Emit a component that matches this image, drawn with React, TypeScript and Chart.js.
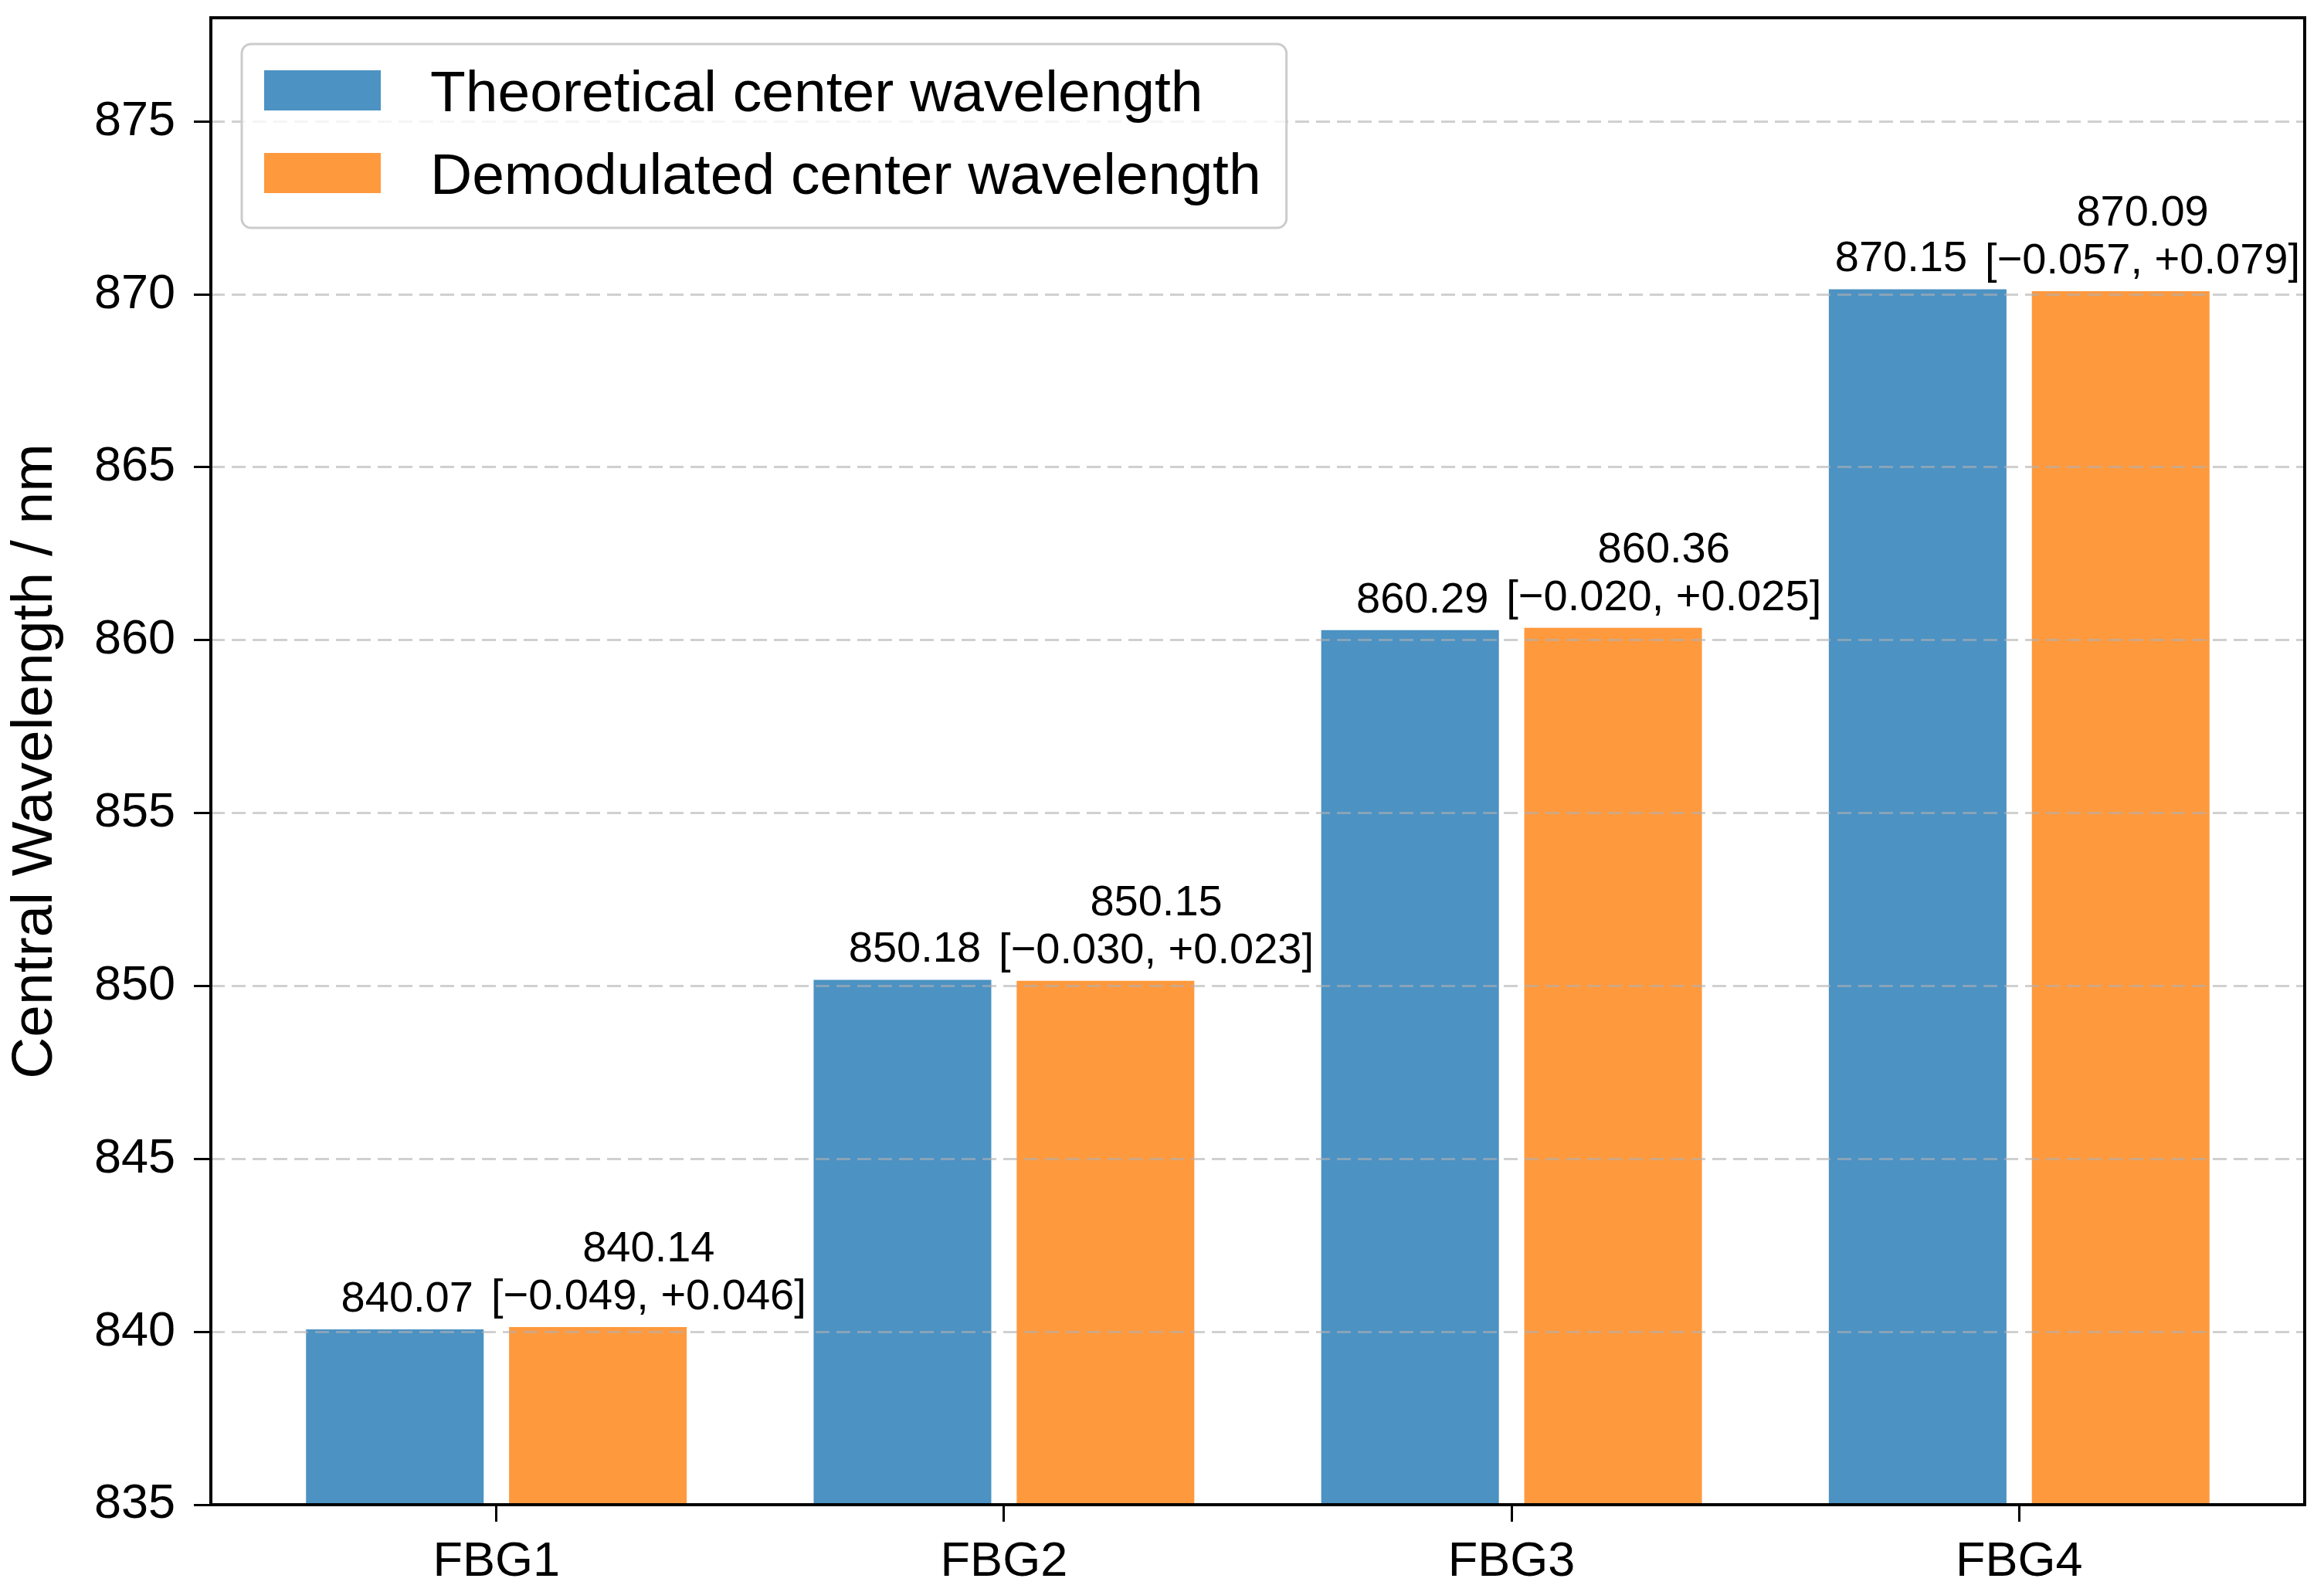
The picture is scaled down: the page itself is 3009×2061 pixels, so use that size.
import { useEffect, useRef } from "react"
import { Chart, registerables } from "chart.js"
import type { Plugin } from "chart.js"

Chart.register(...registerables)

const FONT = "'Liberation Sans', Arial, Helvetica, sans-serif"
const WIDTH = 3009
const HEIGHT = 2061

// data
const categories = ["FBG1", "FBG2", "FBG3", "FBG4"]
const seriesLabels = ["Theoretical center wavelength", "Demodulated center wavelength"]
const theoretical = [840.07, 850.18, 860.29, 870.15]
const demodulated = [840.14, 850.15, 860.36, 870.09]
const errLow = [-0.049, -0.03, -0.02, -0.057]
const errHigh = [0.046, 0.023, 0.025, 0.079]
const yTicks = [835, 840, 845, 850, 855, 860, 865, 870, 875]

const BLUE = "#4c92c3"
const ORANGE = "#ff993e"

const signed = (v: number) => (v < 0 ? "\u2212" : "+") + Math.abs(v).toFixed(3)

// text above each pair of bars, nudged so the two labels do not collide
const valueLabels: Plugin<"bar"> = {
  id: "valueLabels",
  afterDraw(chart) {
    const { ctx, chartArea } = chart
    const blueBars = chart.getDatasetMeta(0).data as any[]
    const orangeBars = chart.getDatasetMeta(1).data as any[]
    ctx.save()
    ctx.font = `56px ${FONT}`
    ctx.fillStyle = "#000"
    ctx.textAlign = "center"
    ctx.textBaseline = "alphabetic"
    categories.forEach((_, i) => {
      const b = blueBars[i]
      const o = orangeBars[i]
      const bText = theoretical[i].toFixed(2)
      const oTop = demodulated[i].toFixed(2)
      const oBot = `[${signed(errLow[i])}, ${signed(errHigh[i])}]`
      const bw = ctx.measureText(bText).width
      const ow = Math.max(ctx.measureText(oTop).width, ctx.measureText(oBot).width)
      let bx = b.x + 16
      let ox = bx + bw / 2 + 23 + ow / 2
      const over = ox + ow / 2 - (chartArea.right - 6)
      if (over > 0) {
        bx -= over
        ox -= over
      }
      ctx.fillText(bText, bx, b.y - 23)
      ctx.fillText(oBot, ox, o.y - 23)
      ctx.fillText(oTop, ox, o.y - 23 - 62)
    })
    ctx.restore()
  },
}

// legend box in the upper left corner of the plot
const boxLegend: Plugin<"bar"> = {
  id: "boxLegend",
  afterDraw(chart) {
    const { ctx, chartArea } = chart
    const fontSize = 75
    ctx.save()
    ctx.font = `${fontSize}px ${FONT}`
    const labels = chart.data.datasets.map((d) => String(d.label))
    const textW = Math.max(...labels.map((l) => ctx.measureText(l).width))
    const x0 = chartArea.left + 40
    const y0 = chartArea.top + 34
    const w = 29 + 151 + 64 + textW + 33
    const h = 238
    ctx.beginPath()
    ctx.roundRect(x0, y0, w, h, 12)
    ctx.fillStyle = "rgba(255,255,255,0.8)"
    ctx.fill()
    ctx.lineWidth = 3
    ctx.strokeStyle = "#cccccc"
    ctx.stroke()
    chart.data.datasets.forEach((d, k) => {
      const cy = y0 + 60 + k * 107
      ctx.fillStyle = d.backgroundColor as string
      ctx.fillRect(x0 + 29, cy - 26, 151, 52)
      ctx.fillStyle = "#000"
      ctx.textAlign = "left"
      ctx.textBaseline = "alphabetic"
      ctx.fillText(labels[k], x0 + 29 + 151 + 64, cy + fontSize * 0.358)
    })
    ctx.restore()
  },
}

// full box around the plot like matplotlib spines
const frame: Plugin<"bar"> = {
  id: "frame",
  afterDraw(chart) {
    const { ctx, chartArea } = chart
    ctx.save()
    ctx.lineWidth = 4
    ctx.strokeStyle = "#000"
    ctx.strokeRect(chartArea.left, chartArea.top, chartArea.right - chartArea.left, chartArea.bottom - chartArea.top)
    ctx.restore()
  },
}

export default function App() {
  const canvasRef = useRef<HTMLCanvasElement>(null)

  useEffect(() => {
    document.body.style.margin = "0"
    if (!canvasRef.current) return

    Chart.defaults.font.family = FONT
    Chart.defaults.color = "#000"

    const chart = new Chart(canvasRef.current, {
      type: "bar",
      data: {
        datasets: [
          {
            label: seriesLabels[0],
            data: categories.map((_, i) => ({ x: i, y: theoretical[i] })),
            backgroundColor: BLUE,
            borderWidth: 0,
          },
          {
            label: seriesLabels[1],
            data: categories.map((_, i) => ({ x: i, y: demodulated[i] })),
            backgroundColor: ORANGE,
            borderWidth: 0,
          },
        ],
      },
      options: {
        animation: false,
        responsive: true,
        maintainAspectRatio: false,
        devicePixelRatio: 1,
        events: [],
        categoryPercentage: 0.8,
        barPercentage: 0.875,
        layout: { padding: { top: 23, right: 25, left: 0, bottom: 0 } },
        plugins: {
          legend: { display: false },
          tooltip: { enabled: false },
        },
        scales: {
          x: {
            type: "linear",
            min: -0.5625,
            max: 3.5625,
            offset: false,
            afterBuildTicks: (s) => {
              s.ticks = categories.map((_, i) => ({ value: i }))
            },
            afterFit: (s) => {
              s.height = 113
              s.paddingLeft = 0
              s.paddingRight = 0
            },
            grid: {
              offset: false,
              drawOnChartArea: false,
              drawTicks: true,
              tickLength: 22,
              tickWidth: 3,
              tickColor: "#000",
            },
            border: { display: false },
            ticks: {
              autoSkip: false,
              maxRotation: 0,
              padding: 15,
              color: "#000",
              font: { size: 63, lineHeight: 1.2 },
              callback: (v) => categories[Number(v)] ?? "",
            },
          },
          y: {
            type: "linear",
            min: 835,
            max: 878,
            beginAtZero: false,
            afterBuildTicks: (s) => {
              s.ticks = yTicks.map((v) => ({ value: v }))
            },
            afterFit: (s) => {
              s.width = 273
              s.paddingTop = 0
              s.paddingBottom = 0
            },
            grid: {
              z: 1,
              color: (c) => (c.tick && c.tick.value === yTicks[0] ? "rgba(0,0,0,0)" : "rgba(176,176,176,0.6)"),
              lineWidth: 3,
              drawTicks: true,
              tickLength: 22,
              tickWidth: 3,
              tickColor: "#000",
            },
            border: { display: false, dash: [18, 9] },
            ticks: {
              padding: 24,
              color: "#000",
              font: { size: 63 },
            },
            title: {
              display: true,
              text: "Central Wavelength / nm",
              color: "#000",
              font: { size: 75, lineHeight: 1 },
              padding: { top: 9, bottom: 0 },
            },
          },
        },
      },
      plugins: [valueLabels, boxLegend, frame],
    })

    return () => chart.destroy()
  }, [])

  return (
    <div style={{ width: WIDTH, height: HEIGHT, position: "relative", background: "#fff" }}>
      <canvas ref={canvasRef} aria-label="Central wavelength bar chart"></canvas>
    </div>
  )
}
